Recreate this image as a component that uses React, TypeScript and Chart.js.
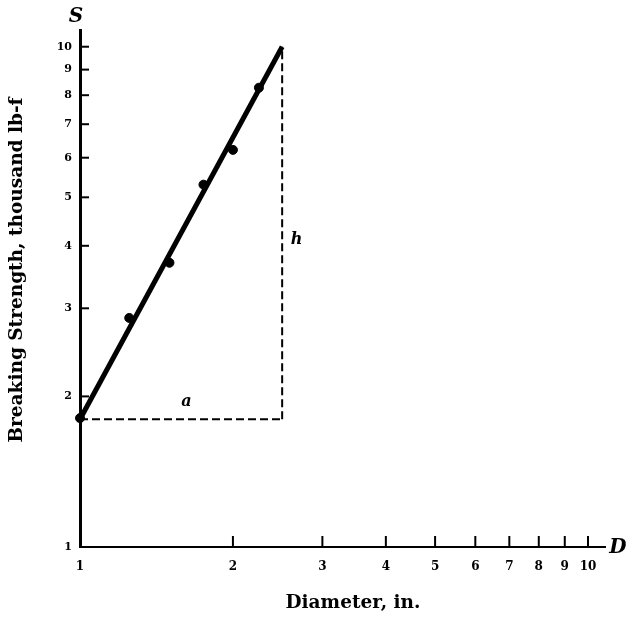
import React, { useEffect, useRef } from "react";
import { Chart, registerables } from "chart.js";

Chart.register(...registerables);

const xTickValues = [1, 2, 3, 4, 5, 6, 7, 8, 9, 10];
const yTickValues = [1, 2, 3, 4, 5, 6, 7, 8, 9, 10];
const diameter = [1, 1.25, 1.5, 1.75, 2, 2.25];
const strength = [1.81, 2.87, 3.7, 5.3, 6.22, 8.28];
const fitD = [1, 2.5];
const fitS = [1.8, 10];
const baseD = [1, 2.5];
const baseS = [1.8, 1.8];
const riseD = [2.5, 2.5];
const riseS = [1.8, 10];
const xAxisTitle = "Diameter, in.";
const yAxisTitle = "Breaking Strength, thousand lb-f";

const serif = "'DejaVu Serif', 'Liberation Serif', serif";

const pts = (xs: number[], ys: number[]) => xs.map((x, i) => ({ x, y: ys[i] }));

const decorPlugin = {
  id: "decor",
  afterDraw(chart: any) {
    const { ctx, scales, chartArea } = chart;
    const xs = scales.x;
    const ys = scales.y;
    const x0 = chartArea.left;
    const y0 = chartArea.bottom;
    ctx.save();
    ctx.strokeStyle = "#000";
    ctx.lineWidth = 2;
    yTickValues.slice(1).forEach((v) => {
      const py = ys.getPixelForValue(v);
      ctx.beginPath();
      ctx.moveTo(x0, py);
      ctx.lineTo(x0 + 9, py);
      ctx.stroke();
    });
    xTickValues.slice(1).forEach((v) => {
      const px = xs.getPixelForValue(v);
      ctx.beginPath();
      ctx.moveTo(px, y0);
      ctx.lineTo(px, y0 - 11);
      ctx.stroke();
    });
    ctx.fillStyle = "#000";
    ctx.textAlign = "center";
    ctx.textBaseline = "middle";
    ctx.font = `italic bold 20px ${serif}`;
    ctx.fillText("S", x0 - 4, chartArea.top - 13);
    ctx.fillText("D", chartArea.right + 13, y0 + 1);
    ctx.font = `italic bold 16px ${serif}`;
    ctx.fillText("a", xs.getPixelForValue(1.62), ys.getPixelForValue(1.95));
    ctx.fillText("h", xs.getPixelForValue(2.67), ys.getPixelForValue(4.11));
    ctx.font = `bold 18.5px ${serif}`;
    ctx.fillText(xAxisTitle, 353, 603);
    ctx.translate(17, 270);
    ctx.rotate(-Math.PI / 2);
    ctx.fillText(yAxisTitle, 0, 0);
    ctx.restore();
  },
};

export default function App() {
  const ref = useRef<HTMLCanvasElement>(null);
  useEffect(() => {
    if (!ref.current) return;
    const tickFont = { family: serif, size: 12, weight: "bold" as const };
    const chart = new Chart(ref.current, {
      type: "scatter",
      data: {
        datasets: [
          {
            type: "line",
            data: pts(baseD, baseS),
            borderColor: "#000",
            borderWidth: 2,
            borderDash: [8, 4],
            pointRadius: 0,
            clip: false,
          },
          {
            type: "line",
            data: pts(riseD, riseS),
            borderColor: "#000",
            borderWidth: 2,
            borderDash: [8, 4],
            pointRadius: 0,
            clip: false,
          },
          {
            type: "line",
            data: pts(fitD, fitS),
            borderColor: "#000",
            borderWidth: 5,
            pointRadius: 0,
            clip: false,
          },
          {
            data: pts(diameter, strength),
            backgroundColor: "#000",
            borderColor: "#000",
            pointRadius: 4.5,
            clip: false,
          },
        ] as any,
      },
      options: {
        animation: false,
        responsive: false,
        events: [],
        layout: { padding: { top: 30, right: 22, left: 0, bottom: 0 } },
        plugins: { legend: { display: false }, tooltip: { enabled: false } },
        scales: {
          x: {
            type: "logarithmic",
            min: 1,
            max: 10.8,
            afterBuildTicks: (s: any) => {
              s.ticks = xTickValues.map((v) => ({ value: v }));
            },
            afterFit: (s: any) => {
              s.height = 72;
            },
            grid: { display: false, drawTicks: false },
            border: { display: true, color: "#000", width: 2 },
            ticks: {
              autoSkip: false,
              maxRotation: 0,
              padding: 13,
              color: "#000",
              font: tickFont,
              callback: (v: any) => String(v),
            },
          },
          y: {
            type: "logarithmic",
            min: 1,
            max: 10.8,
            afterBuildTicks: (s: any) => {
              s.ticks = yTickValues.map((v) => ({ value: v }));
            },
            afterFit: (s: any) => {
              s.width = 80;
            },
            grid: { display: false, drawTicks: false },
            border: { display: true, color: "#000", width: 3 },
            ticks: {
              autoSkip: false,
              padding: 8,
              color: "#000",
              font: { family: serif, size: 11, weight: "bold" },
              callback: (v: any) => String(v),
            },
          },
        },
      },
      plugins: [decorPlugin],
    } as any);
    return () => chart.destroy();
  }, []);
  return (
    <div style={{ position: "fixed", left: 0, top: 0, width: 627, height: 619, background: "#fff" }}>
      <canvas ref={ref} width={627} height={619} style={{ display: "block" }} />
    </div>
  );
}
